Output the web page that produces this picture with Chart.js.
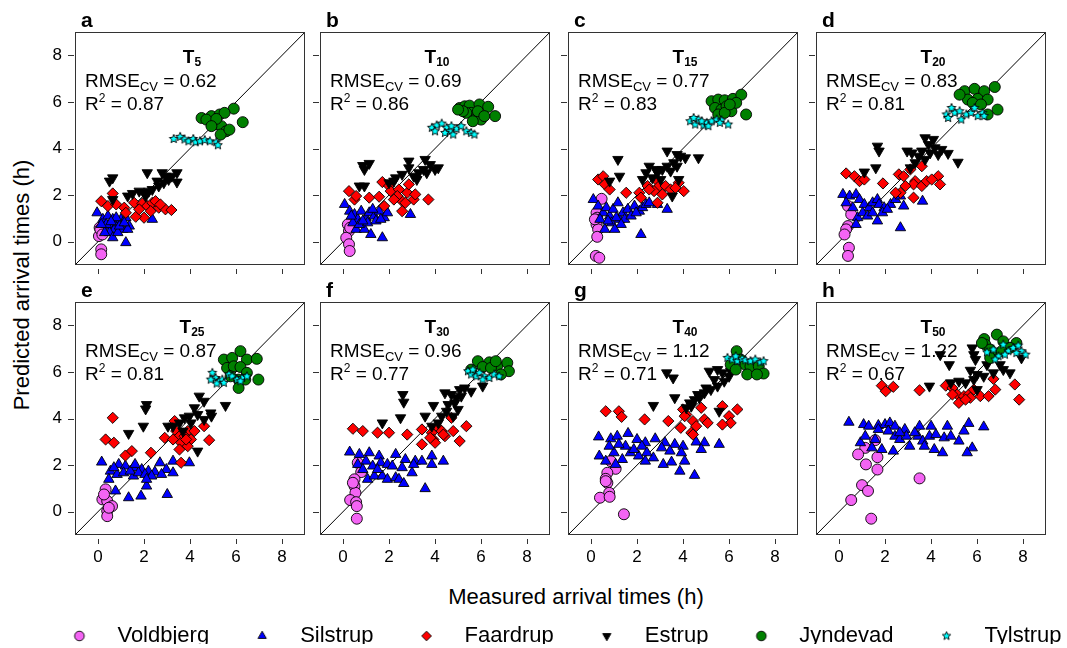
<!DOCTYPE html>
<html>
<head>
<meta charset="utf-8">
<script src="https://cdn.jsdelivr.net/npm/chart.js@4.4.1/dist/chart.umd.min.js"></script>
<style>
  html, body { margin: 0; padding: 0; background: #fff; }
  body { width: 1067px; height: 648px; position: relative; overflow: hidden; font-family: Arial, "Liberation Sans", sans-serif; }
  .panel { position: absolute; }
  .axtitle { position: absolute; font-size: 22px; color: #000; white-space: nowrap; transform: translate(-50%, -50%); }
  #ytitle { left: 22px; top: 285px; transform: translate(-50%, -50%) rotate(-90deg); }
  #xtitle { left: 576px; top: 597px; }
</style>
</head>
<body>
<div class="axtitle" id="ytitle">Predicted arrival times (h)</div>
<div class="axtitle" id="xtitle">Measured arrival times (h)</div>
<div class="panel" style="left:7px;top:599px;width:1100px;height:90px"><canvas id="legend" width="1100" height="90"></canvas></div>
<script>
const FONT = 'Arial, "Liberation Sans", sans-serif';
Chart.defaults.font.family = FONT;

const panelLetters = ["a", "b", "c", "d", "e", "f", "g", "h"];
const panelTimes = ["5", "10", "15", "20", "25", "30", "40", "50"];
const rmseCV = [0.62, 0.69, 0.77, 0.83, 0.87, 0.96, 1.12, 1.22];
const rSquared = [0.87, 0.86, 0.83, 0.81, 0.81, 0.77, 0.71, 0.67];
const tickValues = [0, 2, 4, 6, 8];
const axisMin = -1, axisMax = 9;
const siteNames = ["Voldbjerg", "Silstrup", "Faardrup", "Estrup", "Jyndevad", "Tylstrup"];

// [measured, predicted] per panel a..h
const voldbjerg = [
  [[0.07,0.6],[0.14,0.39],[0.04,0.24],[0.1,0.53],[0.14,-0.33],[0.14,-0.54],[0.19,0.31]],
  [[0.21,0.74],[0.26,0.46],[0.14,0.17],[0.26,-0.11],[0.29,-0.4],[0.31,0.6]],
  [[0.46,1.84],[0.24,1.24],[0.27,1.03],[0.24,0.74],[0.31,0.53],[0.27,0.21],[0.21,-0.61],[0.36,-0.69],[0.17,0.96]],
  [[0.39,1.53],[0.53,1.17],[0.39,0.67],[0.31,0.53],[0.24,0.31],[0.43,-0.26],[0.39,-0.61]],
  [[0.33,0.96],[0.19,0.53],[0.4,0.46],[0.61,0.24],[0.4,0.03],[0.4,-0.19],[0.26,0.74],[0.47,0.17]],
  [[0.64,2.1],[0.79,1.7],[0.5,1.39],[0.5,1.1],[0.54,0.81],[0.31,0.5],[0.57,0.41],[0.6,0.24],[0.6,-0.3],[0.43,1.24]],
  [[0.86,2.17],[1.07,1.84],[0.71,1.67],[0.64,1.41],[0.71,1.24],[0.79,0.81],[0.39,0.6],[0.81,0.64],[1.43,-0.11],[0.64,1.31]],
  [[1.57,3.07],[1.14,2.74],[0.83,2.46],[1.17,2.03],[1.67,2.34],[1.67,1.81],[1.0,1.14],[1.26,0.89],[0.53,0.5],[1.4,-0.3],[3.5,1.43]]
];
const silstrup = [
  [[-0.04,1.24],[0.21,0.96],[0.43,1.1],[0.64,0.96],[0.5,0.67],[0.71,0.53],[0.86,0.81],[1.0,0.96],[1.21,1.03],[1.36,0.67],[1.07,0.53],[0.5,0.39],[0.64,0.17],[0.29,0.39],[0.36,0.74],[0.86,0.39],[1.21,-0.04],[2.36,0.96],[0.14,0.74],[0.93,0.67],[1.29,0.53],[0.79,1.03],[0.57,0.86],[1.14,0.81]],
  [[0.07,1.6],[0.29,1.31],[0.5,1.17],[0.64,0.96],[0.79,1.31],[1.0,1.03],[1.14,1.24],[1.36,1.1],[1.57,1.31],[1.79,1.03],[1.93,1.24],[0.57,0.53],[0.93,0.53],[1.21,0.31],[1.71,0.17],[2.93,1.17],[0.43,0.81],[0.71,0.74],[1.07,0.81],[1.43,0.89],[1.29,1.39],[1.64,0.96],[0.36,1.1],[0.86,0.89]],
  [[0.1,1.81],[0.31,1.53],[0.53,1.24],[0.67,1.46],[0.81,1.1],[0.96,1.39],[1.17,1.67],[1.24,0.96],[1.39,1.24],[1.6,1.39],[1.89,1.53],[2.1,1.31],[2.24,1.46],[2.39,1.6],[2.53,1.67],[2.89,1.6],[3.31,1.39],[2.17,0.31],[0.6,0.53],[0.89,0.81],[1.1,1.03],[1.46,0.96],[1.74,1.1],[1.96,1.24],[0.39,0.96],[0.74,0.89],[1.31,0.74],[1.03,0.53]],
  [[0.17,2.03],[0.46,1.96],[0.74,2.03],[0.89,1.81],[1.1,1.6],[1.31,1.46],[1.46,1.67],[1.67,1.81],[1.74,1.6],[1.96,1.46],[2.24,1.6],[2.46,1.81],[2.67,1.96],[2.81,1.53],[3.63,1.74],[2.67,0.6],[0.6,1.46],[0.81,1.03],[1.03,1.24],[1.24,1.1],[1.67,0.89],[1.89,1.24],[2.1,1.39],[0.31,1.67],[0.74,0.74],[1.46,1.24]],
  [[0.16,2.13],[0.54,1.74],[0.9,2.03],[1.19,1.96],[1.54,1.89],[1.9,1.81],[2.19,1.74],[2.47,1.7],[2.69,2.1],[2.97,1.81],[3.26,2.17],[3.26,1.67],[3.97,2.1],[0.47,1.39],[0.76,0.89],[1.33,0.6],[1.87,0.67],[3.01,0.74],[2.11,1.1],[1.54,1.53],[0.83,1.6],[1.11,1.67],[1.4,1.74],[1.76,1.67],[2.04,1.6],[2.33,1.53],[2.76,1.6],[0.69,1.89],[1.61,2.03],[2.11,1.39]],
  [[0.29,2.56],[0.71,2.46],[1.14,2.53],[1.57,2.39],[2.29,2.46],[2.71,2.24],[3.14,2.17],[3.43,2.17],[3.86,2.39],[4.36,2.17],[1.0,2.17],[1.29,1.96],[1.64,2.1],[1.93,2.03],[2.14,1.96],[2.57,1.89],[3.0,1.67],[1.07,1.39],[1.36,1.53],[1.71,1.53],[1.93,1.39],[2.29,1.46],[2.43,1.39],[2.64,1.21],[3.57,0.99],[0.64,2.03],[0.86,1.81],[1.5,1.81],[3.07,2.03],[3.86,2.03]],
  [[0.33,3.21],[0.86,3.13],[1.14,3.24],[1.61,3.36],[2.0,3.1],[2.36,2.96],[2.79,3.13],[3.21,2.96],[3.64,2.89],[4.0,2.81],[4.57,2.99],[4.93,2.96],[5.57,2.89],[0.36,2.39],[0.64,2.17],[1.0,2.53],[1.36,2.24],[1.71,2.53],[2.07,2.39],[2.36,2.17],[2.71,2.31],[3.14,2.03],[3.5,2.13],[3.86,1.74],[4.5,1.56],[4.07,2.17],[1.5,2.81],[1.86,2.67],[2.21,2.81],[3.07,2.74],[3.43,2.6],[3.93,2.53],[4.79,2.67],[0.79,2.81],[1.21,2.89],[1.07,2.03],[2.43,2.53]],
  [[0.43,3.84],[1.07,3.74],[1.29,3.67],[1.71,3.7],[2.0,3.74],[2.21,3.81],[2.43,3.67],[2.86,3.53],[3.5,3.67],[4.0,3.67],[4.71,3.67],[5.64,3.79],[6.29,3.64],[0.93,2.96],[1.14,3.24],[1.57,3.1],[1.86,2.67],[2.36,2.6],[2.43,3.24],[2.64,3.1],[3.07,2.81],[3.43,3.24],[3.64,3.03],[3.93,3.24],[4.21,3.31],[4.57,3.17],[4.86,3.24],[5.21,3.03],[5.79,2.74],[5.57,2.53],[4.5,2.53],[4.14,2.67],[3.71,2.81],[2.93,3.24],[1.71,3.53],[2.14,3.46],[3.29,3.39],[5.43,3.46],[2.64,3.39],[1.43,2.74]]
];
const faardrup = [
  [[0.14,1.74],[0.64,2.07],[0.43,1.53],[0.79,1.6],[1.14,1.46],[1.57,1.67],[1.93,1.64],[2.14,1.53],[2.36,1.67],[2.64,1.46],[2.93,1.39],[3.19,1.36],[2.5,1.74],[2.0,1.03],[1.64,1.07],[1.21,1.24],[2.29,1.31],[2.71,1.6],[1.79,1.39]],
  [[0.26,2.17],[0.5,1.81],[1.14,1.89],[1.57,1.93],[1.71,2.56],[2.0,2.39],[2.07,2.17],[2.43,2.24],[2.79,2.1],[2.86,2.46],[3.07,1.81],[2.57,1.74],[2.36,1.96],[2.71,1.67],[2.57,1.31],[3.71,1.81],[3.14,2.03],[2.21,1.81],[0.57,1.96],[1.79,1.53]],
  [[0.31,2.67],[0.53,2.81],[0.6,2.46],[0.81,2.24],[1.53,2.1],[2.1,2.1],[2.17,1.89],[2.46,2.39],[2.81,2.67],[2.96,2.39],[2.89,1.67],[2.74,2.17],[3.24,2.39],[3.46,2.24],[3.81,2.53],[4.03,2.17],[3.67,2.31],[3.1,2.03],[2.53,2.24]],
  [[0.31,2.93],[0.67,2.81],[0.89,2.6],[1.1,2.67],[1.91,2.5],[2.67,2.1],[2.6,2.89],[2.81,2.81],[3.1,3.1],[3.31,2.6],[3.24,2.46],[3.6,3.24],[3.6,2.39],[3.81,2.6],[4.31,2.81],[4.39,2.46],[3.24,1.89],[2.46,2.1],[2.89,2.39],[4.03,2.67]],
  [[0.64,4.03],[0.33,3.1],[0.69,2.96],[1.47,2.6],[1.19,2.41],[2.3,2.53],[2.9,3.17],[3.33,3.89],[3.4,3.46],[3.54,3.24],[3.61,2.96],[3.9,3.46],[3.76,3.24],[3.54,2.67],[4.04,3.1],[4.19,3.46],[3.9,2.81],[4.61,3.67],[4.83,3.07],[3.61,2.1],[3.26,3.1],[3.83,3.1]],
  [[0.43,3.56],[0.86,3.46],[1.5,3.39],[2.0,3.39],[2.79,3.31],[3.43,3.53],[3.86,3.39],[3.93,3.1],[3.43,2.89],[4.14,3.6],[4.29,3.46],[4.43,3.24],[4.71,4.03],[4.79,3.46],[5.07,3.03],[5.36,3.67],[4.0,2.96],[4.36,3.31],[3.79,3.17]],
  [[0.64,4.31],[1.21,4.31],[1.33,4.07],[2.33,3.96],[3.36,3.89],[3.9,3.6],[4.0,4.39],[4.14,4.17],[4.43,3.89],[4.57,3.67],[4.36,3.39],[4.93,3.96],[5.07,3.81],[5.71,4.53],[6.0,4.1],[6.07,3.81],[5.71,3.74],[6.36,4.39],[4.79,4.46],[4.43,3.31],[4.07,4.1]],
  [[1.86,5.41],[2.03,5.17],[2.36,5.36],[3.5,5.21],[4.64,5.41],[4.93,5.31],[5.14,5.03],[5.21,4.67],[5.43,4.96],[5.64,5.03],[5.86,5.24],[6.14,4.96],[5.71,4.89],[6.71,5.7],[6.79,5.24],[6.5,4.96],[7.64,5.46],[7.83,4.81],[5.5,4.81],[4.93,5.03]]
];
const estrup = [
  [[0.64,2.74],[0.5,2.6],[2.14,2.96],[2.79,2.96],[2.93,2.81],[3.43,2.96],[3.21,2.81],[3.43,2.56],[2.57,2.6],[2.21,2.17],[2.0,2.1],[1.79,2.17],[1.5,2.07],[1.29,1.96],[2.07,1.96],[2.64,2.39],[3.07,2.67],[2.86,2.53],[2.36,2.24],[0.64,1.81]],
  [[0.86,3.27],[1.14,3.36],[0.93,3.1],[2.86,3.46],[3.57,3.53],[3.79,3.31],[4.14,3.17],[4.0,3.1],[3.5,3.1],[3.29,2.96],[3.07,2.81],[2.57,2.89],[2.29,2.74],[2.21,2.6],[2.0,2.53],[0.71,2.39],[0.93,2.39],[3.21,2.67],[3.64,2.96],[2.86,3.17]],
  [[1.17,3.53],[1.24,2.81],[0.81,2.6],[3.31,3.89],[3.74,3.74],[3.89,3.67],[4.1,3.6],[4.67,3.6],[3.6,3.39],[3.31,3.24],[3.1,3.1],[2.89,2.96],[2.53,3.24],[2.39,2.96],[2.67,2.74],[3.03,2.67],[3.46,3.03],[3.74,3.24],[3.53,1.96],[3.81,2.67],[2.24,2.67],[2.81,3.1]],
  [[1.67,4.1],[1.74,3.89],[1.6,3.17],[3.74,4.46],[4.1,4.39],[3.89,4.17],[4.17,4.03],[4.46,3.96],[4.74,3.79],[5.17,3.41],[4.31,3.74],[3.96,3.81],[3.46,3.67],[3.17,3.81],[2.96,3.89],[3.6,3.89],[1.1,2.99],[3.1,3.17],[3.31,3.39],[3.74,3.53]],
  [[2.11,4.6],[2.07,4.41],[1.97,3.67],[1.33,3.36],[4.4,4.96],[4.61,4.74],[4.19,4.46],[3.97,4.1],[3.76,4.03],[3.54,3.81],[3.26,3.67],[3.04,3.67],[4.33,4.17],[4.9,4.24],[4.93,4.1],[5.54,4.56],[4.33,2.6],[3.69,3.46],[4.04,3.81],[4.61,3.96]],
  [[2.6,5.03],[2.64,4.7],[2.5,4.03],[1.71,3.81],[3.57,4.1],[3.93,4.56],[4.43,5.1],[4.71,5.03],[5.07,5.24],[5.29,5.31],[5.57,5.17],[5.14,4.96],[4.86,4.67],[5.0,4.39],[4.5,4.31],[4.29,4.1],[4.14,3.81],[3.86,3.67],[4.79,4.1],[6.07,5.39],[4.93,4.89],[4.57,4.6]],
  [[3.29,5.96],[3.57,5.74],[3.64,4.89],[2.71,4.56],[5.14,6.03],[5.5,6.1],[5.71,5.96],[6.0,5.81],[5.79,5.6],[5.5,5.39],[5.21,5.24],[4.93,5.1],[4.71,4.89],[4.5,4.81],[4.29,4.67],[4.14,4.46],[5.57,4.31],[6.07,6.03],[5.36,5.67],[5.0,5.31],[4.64,5.03],[4.36,4.53]],
  [[4.4,6.74],[4.79,6.31],[3.93,5.39],[5.79,7.03],[5.86,6.74],[5.93,6.53],[5.71,6.07],[6.0,5.89],[6.29,5.81],[6.71,5.96],[7.14,6.1],[7.43,5.96],[7.93,6.6],[4.86,5.53],[5.21,5.6],[5.5,5.53],[5.86,5.67],[6.0,5.24],[7.0,6.31],[6.43,6.31]]
];
const jyndevad = [
  [[5.9,5.71],[6.29,5.13],[4.5,5.31],[4.93,5.39],[5.29,5.46],[5.5,5.53],[5.07,5.03],[5.36,4.96],[5.57,4.74],[5.33,4.6],[5.71,4.81],[4.71,5.24],[5.14,5.27],[4.93,4.96]],
  [[5.07,5.74],[5.29,5.81],[5.5,5.84],[5.93,5.89],[6.31,5.79],[6.61,5.39],[5.57,5.53],[5.79,5.31],[6.0,5.24],[5.36,5.53],[5.64,5.17],[5.21,5.6],[5.0,5.67],[5.86,5.6],[6.14,5.39]],
  [[5.24,6.03],[5.53,6.1],[5.81,6.07],[6.17,6.13],[6.53,6.31],[6.74,5.46],[5.39,5.74],[5.67,5.67],[5.89,5.81],[6.1,5.6],[6.31,5.96],[5.53,5.46],[5.81,5.53],[6.03,5.89]],
  [[5.46,6.46],[5.89,6.56],[6.31,6.46],[6.77,6.64],[5.6,6.1],[6.03,6.13],[6.46,6.1],[6.89,5.67],[5.81,5.96],[6.17,5.89],[6.46,5.46],[5.24,6.31]],
  [[5.47,6.53],[5.83,6.6],[6.19,6.89],[6.47,6.53],[6.9,6.56],[5.61,6.17],[5.9,6.24],[6.19,6.21],[6.47,5.96],[6.11,5.67],[6.97,5.67],[5.76,5.81],[6.4,5.67],[6.11,5.31]],
  [[5.86,6.46],[6.36,6.41],[6.71,6.27],[7.14,6.39],[7.21,6.03],[6.07,6.21],[6.43,6.17],[6.86,5.89],[5.57,6.1],[6.64,6.46]],
  [[6.33,6.89],[6.5,6.53],[6.71,6.31],[6.93,6.24],[7.29,6.24],[7.5,5.93],[6.79,5.89],[7.21,5.89],[6.07,6.31],[6.29,6.1]],
  [[6.31,7.41],[6.86,7.6],[7.14,7.31],[7.71,7.24],[6.36,7.17],[6.57,6.96],[6.79,6.74],[7.43,7.03],[7.07,6.89],[6.57,6.6],[6.21,7.24]]
];
const tylstrup = [
  [[3.29,4.41],[3.57,4.5],[3.76,4.39],[3.93,4.31],[4.14,4.41],[4.24,4.27],[4.43,4.31],[4.64,4.36],[4.86,4.31],[5.14,4.27],[5.21,4.14]],
  [[3.86,4.89],[4.07,4.99],[4.29,5.07],[4.5,4.89],[4.64,4.74],[4.79,4.6],[4.93,4.84],[5.14,4.96],[5.36,4.74],[5.57,4.67],[5.71,4.6],[4.0,4.74],[4.43,4.67],[4.71,4.96]],
  [[4.31,5.17],[4.53,5.03],[4.67,5.24],[4.89,4.99],[5.03,5.1],[5.24,5.17],[5.46,5.24],[5.67,5.21],[5.96,5.03],[4.46,5.31],[4.81,5.17],[5.1,4.96],[5.6,5.1]],
  [[4.67,5.46],[4.89,5.74],[5.03,5.53],[5.24,5.6],[5.31,5.24],[5.53,5.46],[5.74,5.53],[5.89,5.74],[6.03,5.39],[6.24,5.53],[6.31,5.39],[4.74,5.31]],
  [[4.97,5.96],[5.11,5.74],[5.26,5.6],[5.4,5.67],[5.69,5.89],[5.83,5.81],[6.04,5.67],[6.26,5.74],[6.47,5.81],[5.16,5.5],[5.47,5.53],[6.19,5.6],[4.9,5.67]],
  [[5.43,6.03],[5.57,5.89],[5.79,5.81],[5.93,5.96],[6.14,5.81],[6.36,5.74],[6.57,5.89],[6.79,5.81],[5.64,6.1],[6.07,5.67]],
  [[5.93,6.6],[6.14,6.53],[6.36,6.46],[6.57,6.56],[6.71,6.5],[6.93,6.46],[7.14,6.53],[7.36,6.41],[7.5,6.46],[6.29,6.67]],
  [[6.43,6.84],[6.71,6.96],[6.93,6.67],[7.14,7.17],[7.36,6.89],[7.57,7.03],[7.79,7.13],[7.93,6.89],[8.11,6.74],[6.79,6.53],[7.21,6.74],[7.71,6.81]]
];
const siteData = [voldbjerg, silstrup, faardrup, estrup, jyndevad, tylstrup];

// marker look for each site
const siteStyle = [
  { color: "#f464f4", shape: "circle", rot: 0, r: 5.5 },
  { color: "#0000ff", shape: "triangle", rot: 0, r: 6 },
  { color: "#ff0000", shape: "rectRot", rot: 0, r: 5.6 },
  { color: "#000000", shape: "triangle", rot: 180, r: 6 },
  { color: "#008000", shape: "circle", rot: 0, r: 5.5 },
  { color: "#00ffff", shape: "star", rot: 0, r: 4.6 },
];

function makeIcon(st, r) {
  const c = document.createElement("canvas");
  const n = Math.ceil(r * 2 + 4);
  c.width = n; c.height = n;
  const g = c.getContext("2d");
  const cx = n / 2, cy = n / 2;
  g.fillStyle = st.color; g.strokeStyle = "#000"; g.lineWidth = 0.9;
  g.beginPath();
  if (st.shape === "circle") g.arc(cx, cy, r, 0, Math.PI * 2);
  else if (st.shape === "triangle") {
    const d = st.rot ? -1 : 1;
    g.moveTo(cx, cy - d * r); g.lineTo(cx + r * 0.866, cy + d * r * 0.5); g.lineTo(cx - r * 0.866, cy + d * r * 0.5);
  } else if (st.shape === "rectRot") {
    g.moveTo(cx, cy - r); g.lineTo(cx + r, cy); g.lineTo(cx, cy + r); g.lineTo(cx - r, cy);
  } else {
    for (let k = 0; k < 10; k++) {
      const a = -Math.PI / 2 + k * Math.PI / 5, rr = k % 2 ? r * 0.45 : r;
      g.lineTo(cx + rr * Math.cos(a), cy + rr * Math.sin(a));
    }
  }
  g.closePath(); g.fill(); g.stroke();
  return c;
}
const starImage = makeIcon(siteStyle[5], siteStyle[5].r);
const legendIcons = siteStyle.map(st => makeIcon(st, st.shape === "star" ? 4.4 : 4.8));

function drawParts(ctx, parts, x, y, align) {
  let total = 0;
  parts.forEach(p => { ctx.font = p[1] + " " + FONT; p.w = ctx.measureText(p[0]).width; total += p.w; });
  let cx = align === "center" ? x - total / 2 : x;
  parts.forEach(p => { ctx.font = p[1] + " " + FONT; ctx.fillText(p[0], cx, y + p[2]); cx += p.w; });
}

const panelPlugin = {
  id: "panel",
  afterDraw(chart, args, opts) {
    const ctx = chart.ctx, a = chart.chartArea, i = opts.index;
    const sx = chart.scales.x, sy = chart.scales.y;
    ctx.save();
    ctx.strokeStyle = "#333"; ctx.lineWidth = 1;
    ctx.strokeRect(Math.round(a.left) + 0.5, Math.round(a.top) + 0.5, Math.round(a.right - a.left) - 1, Math.round(a.bottom - a.top) - 1);
    ctx.beginPath();
    tickValues.forEach(v => {
      const px = Math.round(sx.getPixelForValue(v)) + 0.5;
      ctx.moveTo(px, a.bottom + 4); ctx.lineTo(px, a.bottom + 9);
      const py = Math.round(sy.getPixelForValue(v)) + 0.5;
      ctx.moveTo(a.left - 1, py); ctx.lineTo(a.left - 7, py);
    });
    ctx.stroke();
    ctx.fillStyle = "#000"; ctx.textBaseline = "alphabetic"; ctx.textAlign = "left";
    drawParts(ctx, [[panelLetters[i], "bold 21px", 0]], a.left + 6, a.top - 5, "left");
    drawParts(ctx, [["T", "bold 19px", 0], [panelTimes[i], "bold 12px", 3]], a.left + 117, a.top + 31, "center");
    drawParts(ctx, [["RMSE", "19px", 0], ["CV", "13px", 4], [" = " + rmseCV[i].toFixed(2), "19px", 0]], a.left + 10, a.top + 55, "left");
    drawParts(ctx, [["R", "19px", 0], ["2", "12px", -8], [" = " + rSquared[i].toFixed(2), "19px", 0]], a.left + 10, a.top + 78, "left");
    ctx.restore();
  }
};

const boxLeft = [75, 320, 568, 816], boxTop = [32, 302], boxSize = 233;
const padL = 50, padT = 32, padR = 4, padB = 40;

for (let i = 0; i < 8; i++) {
  const row = Math.floor(i / 4), col = i % 4;
  const div = document.createElement("div");
  div.className = "panel";
  const w = padL + boxSize + padR, h = padT + boxSize + padB;
  div.style.left = (boxLeft[col] - padL) + "px";
  div.style.top = (boxTop[row] - padT) + "px";
  div.style.width = w + "px"; div.style.height = h + "px";
  const cv = document.createElement("canvas");
  cv.width = w; cv.height = h;
  div.appendChild(cv);
  document.body.appendChild(div);

  const datasets = [];
  for (let s = siteNames.length - 1; s >= 0; s--) {
    const st = siteStyle[s];
    datasets.push({
      label: siteNames[s],
      data: siteData[s][i].map(p => ({ x: p[0], y: p[1] })),
      pointStyle: st.shape === "star" ? starImage : st.shape,
      rotation: st.rot,
      pointRadius: st.r,
      backgroundColor: st.color,
      borderColor: "#000",
      borderWidth: 0.9,
    });
  }
  datasets.push({
    label: "1:1",
    data: [{ x: axisMin, y: axisMin }, { x: axisMax, y: axisMax }],
    showLine: true, pointRadius: 0, borderColor: "#000", borderWidth: 1, fill: false,
  });

  const tickFont = { size: 17, family: FONT };
  new Chart(cv, {
    type: "scatter",
    data: { datasets },
    plugins: [panelPlugin],
    options: {
      responsive: false, animation: false, devicePixelRatio: 1, events: [],
      layout: { padding: { left: 0, top: padT, right: padR, bottom: 0 } },
      plugins: { legend: { display: false }, tooltip: { enabled: false }, panel: { index: i } },
      scales: {
        x: {
          type: "linear", min: axisMin, max: axisMax,
          afterBuildTicks: s => { s.ticks = tickValues.map(v => ({ value: v })); },
          afterFit: s => { s.height = padB; },
          grid: { display: false, drawTicks: false }, border: { display: false },
          ticks: { display: row === 1, padding: 12, color: "#000", font: tickFont, maxRotation: 0, autoSkip: false },
        },
        y: {
          type: "linear", min: axisMin, max: axisMax,
          afterBuildTicks: s => { s.ticks = tickValues.map(v => ({ value: v })); },
          afterFit: s => { s.width = padL; },
          grid: { display: false, drawTicks: false }, border: { display: false },
          ticks: { display: col === 0, padding: 13, color: "#000", font: tickFont, autoSkip: false },
        },
      },
    },
  });
}

new Chart(document.getElementById("legend"), {
  type: "scatter",
  data: { datasets: siteNames.map(n => ({ label: n, data: [] })) },
  options: {
    responsive: false, animation: false, devicePixelRatio: 1, events: [],
    scales: { x: { display: false }, y: { display: false } },
    plugins: {
      tooltip: { enabled: false },
      legend: {
        display: true, position: "top",
        labels: {
          usePointStyle: true, pointStyleWidth: 54, boxHeight: 10, padding: 26, color: "#000",
          font: { size: 22, family: FONT },
          generateLabels: () => siteNames.map((n, s) => ({
            text: n, pointStyle: legendIcons[s], fillStyle: siteStyle[s].color,
            strokeStyle: "#000", lineWidth: 1, hidden: false, datasetIndex: s, fontColor: "#000",
          })),
        },
      },
    },
  },
});
</script>
</body>
</html>
